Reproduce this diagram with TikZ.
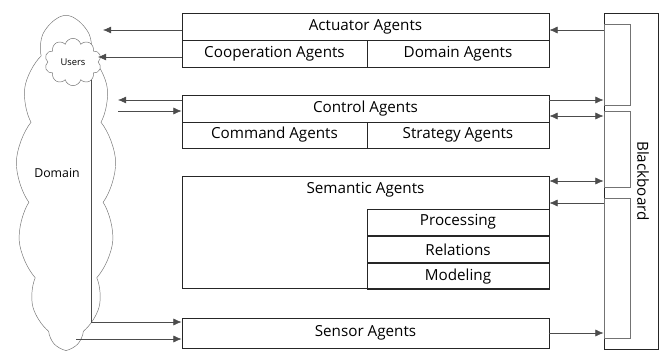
\documentclass[tikz,border=0pt]{standalone}
\usepackage{fontspec}
\setmainfont{Open Sans}
\usetikzlibrary{shapes,arrows.meta,calc,positioning}

\begin{document}
\begin{tikzpicture}[x=0.03cm,y=-0.03cm,
  agent/.style={rectangle,draw=black!85,line width=0.7pt,inner sep=0pt,minimum width=11.01cm,minimum height=0.81cm,font=\fontsize{13}{15}\selectfont},
  lefthalf/.style={agent,minimum width=5.55cm},
  righthalf/.style={agent,minimum width=5.46cm},
  slot/.style={rectangle,draw=black!55,line width=0.6pt,minimum width=0.78cm,inner sep=0pt},
  link/.style={draw=black!70,line width=0.5pt,>={Latex[length=7pt,width=6pt]}},
  puff/.style={cloud,cloud ignores aspect,draw=black!55,line width=0.4pt,inner sep=0pt}]
\useasboundingbox (0,0) rectangle (661,352);

% domain and users
\node[puff,cloud puffs=13,cloud puff arc=75,minimum width=3.0cm,minimum height=10.0cm] at (66,182) (domain) {};
\node[font=\fontsize{10.5}{12}\selectfont] at (57,173) (domlabel) {Domain};
\node[puff,cloud puffs=10,fill=white,minimum width=1.7cm,minimum height=1.42cm,font=\fontsize{8}{9}\selectfont] at (73,62) (users) {Users};

% agent layers
\node[agent] at (365.5,26.5) (actuator) {Actuator Agents};
\node[lefthalf] at (274.5,53.5) (coop) {Cooperation Agents};
\node[righthalf] at (458,53.5) (domainag) {Domain Agents};

\node[agent] at (365.5,108.5) (control) {Control Agents};
\node[lefthalf,minimum height=0.78cm] at (274.5,135) (command) {Command Agents};
\node[righthalf,minimum height=0.78cm] at (458,135) (strategy) {Strategy Agents};

\node[agent,minimum height=3.36cm] at (365.5,232) (semantic) {};
\node[font=\fontsize{13}{15}\selectfont,below=2pt of semantic.north] (semtitle) {Semantic Agents};
\node[righthalf,minimum height=0.79cm] at (458,222.2) (processing) {Processing};
\node[righthalf,minimum height=0.79cm,below=0pt of processing] (relations) {Relations};
\node[righthalf,minimum height=0.79cm,below=0pt of relations] (modeling) {Modeling};

\node[agent,minimum height=0.9cm] at (365.5,333) (sensor) {Sensor Agents};

% blackboard
\node[agent,minimum width=1.62cm,minimum height=10.08cm] at (631,181) (bb) {};
\node[slot,minimum height=2.43cm] at (617,64.5) (bbA) {};
\node[slot,minimum height=2.28cm] at (617,149) (bbB) {};
\node[slot,minimum height=4.2cm] at (617,268) (bbC) {};
\node[font=\fontsize{13}{15}\selectfont,rotate=-90] at (643,181) (bblabel) {Blackboard};

% free ends on the clouds
\coordinate (dom1) at (103,30);
\coordinate (usr1) at (98,57);
\coordinate (dom2) at (118,100);
\coordinate (dom3) at (118,111);
\coordinate (usr2) at (91,80);
\coordinate (dom4) at (76,339);

\draw[link,->] (actuator.west |- dom1) -- (dom1);
\draw[link,->] (coop.west |- usr1) -- (usr1);
\draw[link,->] (control.west |- dom2) -- (dom2);
\draw[link,->] (dom3) -- (control.west |- dom3);
\draw[link,->] (usr2) |- (sensor.west |- 0,322);
\draw[link,->] (dom4) -- (sensor.west |- dom4);

\draw[link,->] (bb.west |- dom1) -- (actuator.east |- dom1);
\draw[link,->] (control.east |- dom2) -- (bb.west |- dom2);
\draw[link,<->] (control.east |- 0,116) -- (bb.west |- 0,116);
\draw[link,<->] (semantic.east |- 0,181) -- (bb.west |- 0,181);
\draw[link,->] (bb.west |- 0,203) -- (semantic.east |- 0,203);
\draw[link,->] (sensor.east |- 0,333) -- (bb.west |- 0,333);
\end{tikzpicture}
\end{document}
